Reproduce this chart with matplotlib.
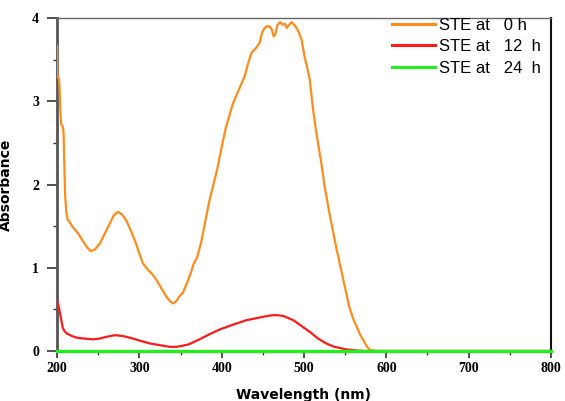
import matplotlib
matplotlib.use("Agg")
import matplotlib.pyplot as plt
from matplotlib.ticker import MultipleLocator

# ---- data ----
wl_0h = [200, 200.5, 202, 203, 204, 205, 207, 208, 209, 210, 211.5, 213, 216, 219, 225, 231, 236,
         241, 246, 252, 258, 264, 269, 274, 279, 284, 290, 296, 300, 304, 310, 316, 321, 327,
         333, 338, 341, 345, 349, 353, 358, 363, 366, 370, 375, 380, 385, 390, 395, 400, 405,
         410, 414, 420, 428, 432, 436, 441, 446, 449, 452, 455, 458, 461, 463, 465, 468, 471,
         474, 477, 479, 482, 485, 488, 491, 494, 497, 501, 504, 507, 511, 515, 521, 525, 531,
         539, 547, 555, 560, 564, 568, 572, 576, 580, 590, 700, 800]
abs_0h = [3.66, 3.30, 3.28, 3.20, 2.90, 2.72, 2.70, 2.62, 2.20, 1.85, 1.65, 1.58, 1.54, 1.49, 1.42,
          1.33, 1.25, 1.20, 1.22, 1.29, 1.41, 1.53, 1.63, 1.67, 1.64, 1.57, 1.44, 1.29, 1.17,
          1.06, 0.98, 0.92, 0.85, 0.75, 0.65, 0.59, 0.57, 0.60, 0.66, 0.70, 0.82, 0.95, 1.05,
          1.12, 1.30, 1.55, 1.80, 2.00, 2.20, 2.45, 2.68, 2.85, 2.98, 3.12, 3.30, 3.45, 3.58,
          3.63, 3.70, 3.82, 3.88, 3.90, 3.90, 3.86, 3.78, 3.80, 3.92, 3.95, 3.92, 3.93, 3.88,
          3.92, 3.95, 3.92, 3.88, 3.82, 3.74, 3.52, 3.40, 3.26, 2.90, 2.62, 2.26, 1.98, 1.65,
          1.25, 0.89, 0.53, 0.38, 0.29, 0.20, 0.13, 0.06, 0.01, 0.0, 0.0, 0.0]

wl_12h = [200, 201, 203, 205, 207, 209, 212, 218, 224, 232, 244, 252, 260, 270, 280, 292, 302,
          313, 325, 337, 345, 351, 360, 373, 385, 398, 412, 430, 445, 455, 462, 468, 475, 487,
          497, 507, 517, 527, 537, 551, 565, 575, 700, 800]
abs_12h = [0.60, 0.58, 0.49, 0.38, 0.28, 0.24, 0.21, 0.18, 0.16, 0.15, 0.14, 0.15, 0.17, 0.19,
           0.18, 0.15, 0.12, 0.09, 0.07, 0.05, 0.05, 0.06, 0.08, 0.14, 0.20, 0.26, 0.31, 0.37,
           0.40, 0.42, 0.43, 0.43, 0.42, 0.37, 0.30, 0.23, 0.15, 0.09, 0.05, 0.02, 0.005, 0.0,
           0.0, 0.0]

wl_24h = [200, 300, 400, 500, 600, 700, 800]
abs_24h = [0, 0, 0, 0, 0, 0, 0]

labels = ["STE at   0 h", "STE at   12  h", "STE at   24  h"]
x_ticks = [200, 300, 400, 500, 600, 700, 800]
y_ticks = [0, 1, 2, 3, 4]

# ---- figure ----
fig = plt.figure(figsize=(5.65, 4.01), dpi=100)
ax = fig.add_axes([57 / 565, 1 - 351 / 401, (551 - 57) / 565, (351 - 18) / 401])

ax.plot(wl_0h, abs_0h, color="#ff8c1a", lw=1.6, label=labels[0], zorder=3)
ax.plot(wl_12h, abs_12h, color="#ff1a1a", lw=1.6, label=labels[1], zorder=3)
ax.plot(wl_24h, abs_24h, color="#22ee22", lw=2.4, label=labels[2], zorder=4, clip_on=False)

ax.set_xlim(200, 800)
ax.set_ylim(0, 4)
ax.set_xticks(x_ticks)
ax.set_yticks(y_ticks)
ax.xaxis.set_minor_locator(MultipleLocator(50))
ax.yaxis.set_minor_locator(MultipleLocator(0.5))

tickfont = dict(family="Liberation Serif", weight="bold", size=10)
ax.set_xticklabels([str(v) for v in x_ticks], **tickfont)
ax.set_yticklabels([str(v) for v in y_ticks], **tickfont)
ax.tick_params(axis="both", which="major", direction="out", length=5, width=1.2, color="#333333", pad=3)
ax.tick_params(axis="both", which="minor", direction="out", length=3, width=1.0, color="#333333")
ax.tick_params(axis="y", which="major", length=7, pad=6)

ax.spines["left"].set_linewidth(2.0)
ax.spines["left"].set_color("#555555")
ax.spines["top"].set_linewidth(1.0)
ax.spines["top"].set_color("#666666")
ax.spines["right"].set_linewidth(1.5)
ax.spines["right"].set_color("#111111")
ax.spines["bottom"].set_linewidth(1.0)
ax.spines["bottom"].set_color("#333333")

ax.set_xlabel("Wavelength (nm)", family="DejaVu Sans", weight="bold", size=10, labelpad=9)
ax.set_ylabel("Absorbance", family="DejaVu Sans", weight="bold", size=10, labelpad=14)

leg = ax.legend(loc="upper left", bbox_to_anchor=((392 - 57) / 494, 1.0), borderaxespad=0,
                prop=dict(family="Liberation Sans", size=12), handlelength=2.6,
                handletextpad=0.2, labelspacing=0.38, borderpad=0.0, frameon=False)
for line in leg.get_lines():
    line.set_linewidth(2.2)

fig.savefig("out.png", dpi=100)
